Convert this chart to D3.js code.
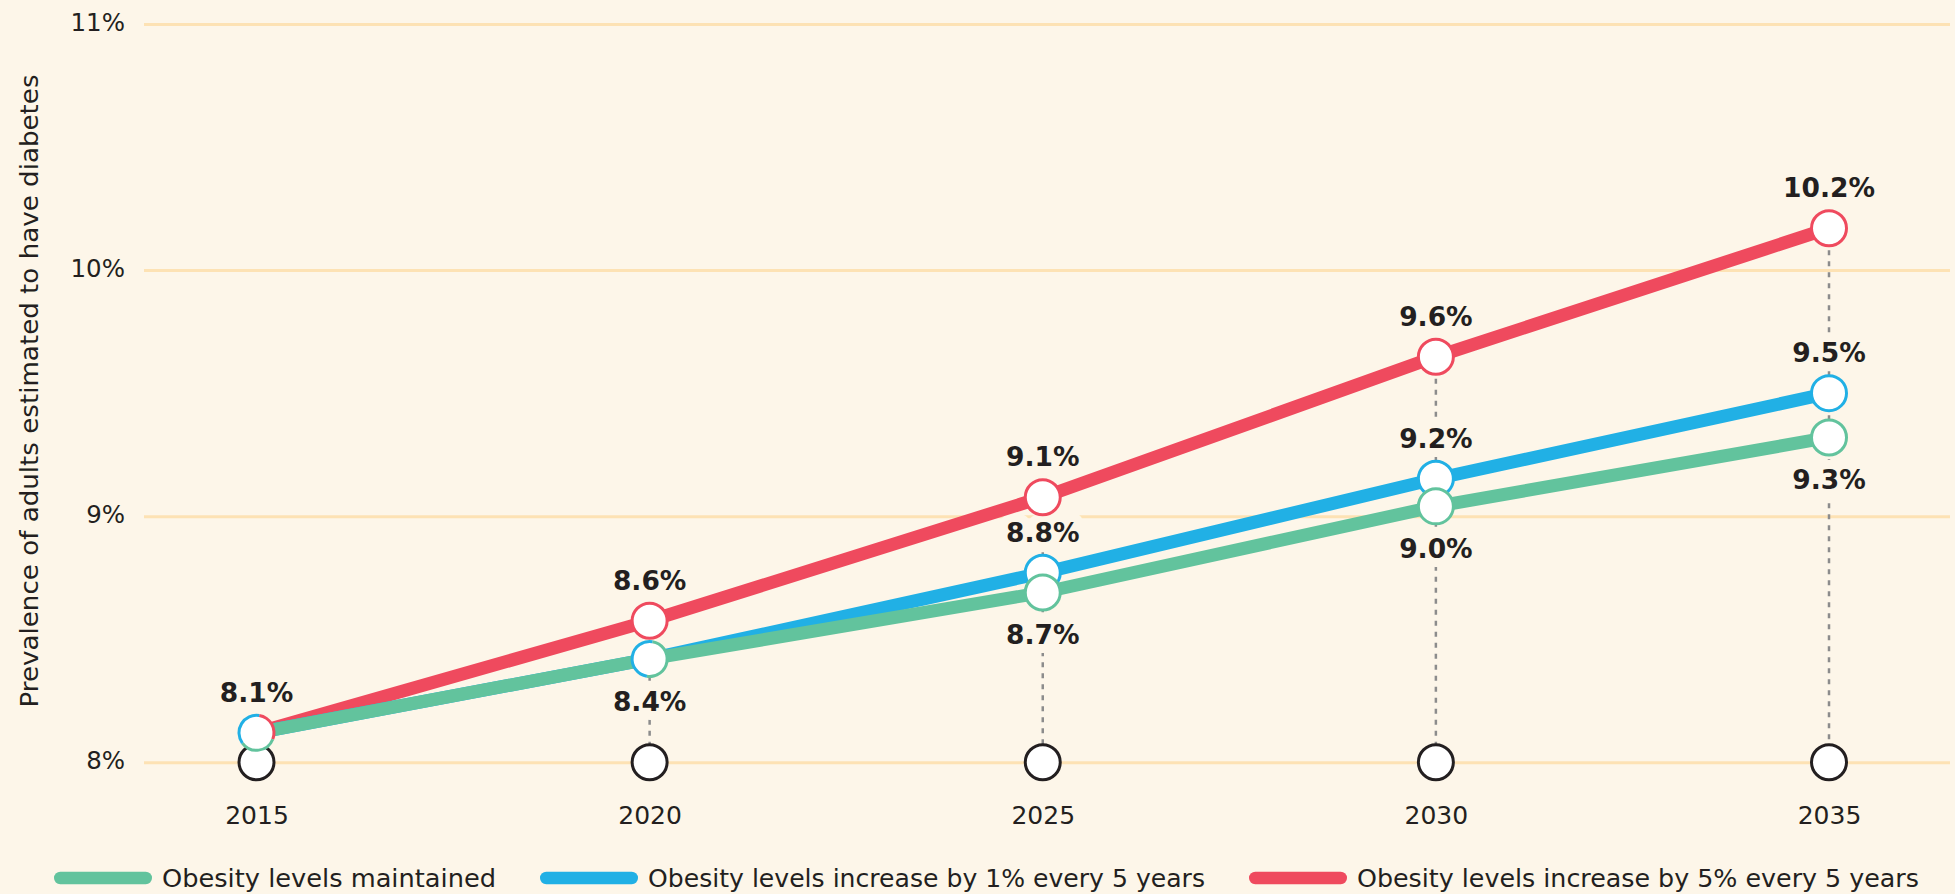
<!DOCTYPE html>
<html>
<head>
<meta charset="utf-8">
<script src="https://cdn.jsdelivr.net/npm/d3@7"></script>
<style>
  html, body { margin: 0; padding: 0; background: #fdf6e9; }
  svg { display: block; }
</style>
</head>
<body>
<svg id="chart"></svg>
<script>
// data
const years = [2015, 2020, 2025, 2030, 2035];
const maintained = [8.12, 8.42, 8.69, 9.04, 9.32];
const increase1 = [8.12, 8.42, 8.77, 9.152, 9.5];
const increase5 = [8.12, 8.575, 9.077, 9.648, 10.17];
const yTicks = [8, 9, 10, 11];
const seriesNames = [
  "Obesity levels maintained",
  "Obesity levels increase by 1% every 5 years",
  "Obesity levels increase by 5% every 5 years"
];
const yTitle = "Prevalence of adults estimated to have diabetes";

const colours = ["#62c39d", "#21b0e5", "#ef4a5e"];
const bg = "#fdf6e9";
const ink = "#231f20";

const series = [
  { name: seriesNames[0], values: maintained, colour: colours[0], key: "g" },
  { name: seriesNames[1], values: increase1, colour: colours[1], key: "b" },
  { name: seriesNames[2], values: increase5, colour: colours[2], key: "r" }
];

let svgWidth = 1955,
  svgHeight = 894;
let svg = d3.select("#chart").attr("width", svgWidth).attr("height", svgHeight);

let x = d3.scaleLinear().domain([2015, 2035]).range([256.5, 1829]);
let y = d3.scaleLinear().domain([8, 11]).range([762.3, 24]);
let fmt = d3.format(".1f");
let regular = "'DejaVu Sans', sans-serif";

// background
svg.append("rect").attr("width", svgWidth).attr("height", svgHeight).attr("fill", bg);

// gridlines + y labels
let yAxis = d3.axisLeft(y).tickValues(yTicks).tickFormat(d => d + "%").tickSize(-(1950 - 144)).tickPadding(19);
let ga = svg.append("g").attr("transform", "translate(144,0)").call(yAxis);
ga.select(".domain").remove();
ga.selectAll(".tick line").attr("stroke", "#fde2b4").attr("stroke-width", 3);
ga.selectAll(".tick text")
  .attr("fill", ink)
  .attr("font-family", regular)
  .attr("font-size", 24.5)
  .attr("dy", "0.27em");

// x labels
let xAxis = d3.axisBottom(x).tickValues(years).tickFormat(d3.format("d")).tickSize(0).tickPadding(0);
let gx = svg.append("g").attr("transform", "translate(0,824)").call(xAxis);
gx.select(".domain").remove();
gx.selectAll(".tick text")
  .attr("fill", ink)
  .attr("font-family", regular)
  .attr("font-size", 25)
  .attr("dy", 0)
  .attr("y", 0);

// y title
svg.append("text")
  .attr("transform", "translate(38,391) rotate(-90)")
  .attr("text-anchor", "middle")
  .attr("fill", ink)
  .attr("font-family", regular)
  .attr("font-size", 25)
  .attr("textLength", 633)
  .attr("lengthAdjust", "spacingAndGlyphs")
  .text(yTitle);

// group points per year where values coincide
let groups = years.map((yr, i) => {
  let g = [];
  series.forEach(s => {
    let v = s.values[i];
    let found = g.find(e => Math.abs(e.value - v) < 1e-9);
    if (found) found.members.push(s);
    else g.push({ value: v, members: [s] });
  });
  g.sort((a, b) => b.value - a.value);
  return { year: yr, groups: g };
});

// dashed drop lines
let drops = svg.append("g");
groups.forEach(d => {
  drops.append("line")
    .attr("x1", x(d.year))
    .attr("x2", x(d.year))
    .attr("y1", y(d.groups[0].value))
    .attr("y2", y(8))
    .attr("stroke", "#8c8c8c")
    .attr("stroke-width", 2.5)
    .attr("stroke-dasharray", "5,6");
});

// value labels (masked with background stroke)
let labels = svg.append("g")
  .attr("font-family", "'DejaVu Sans', sans-serif")
  .attr("font-weight", "bold")
  .attr("font-size", 26.5)
  .attr("fill", ink)
  .attr("text-anchor", "middle");
groups.forEach(d => {
  let n = d.groups.length;
  d.groups.forEach((g, k) => {
    let below = n > 1 && k === n - 1;
    labels.append("text")
      .attr("x", x(d.year))
      .attr("y", below ? y(g.value) + 52 : y(g.value) - 31)
      .attr("stroke", bg)
      .attr("stroke-width", 18)
      .attr("paint-order", "stroke")
      .attr("stroke-linejoin", "round")
      .text(fmt(g.value) + "%");
  });
});

// baseline circles
svg.append("g").selectAll("circle")
  .data(years)
  .join("circle")
  .attr("cx", d => x(d))
  .attr("cy", y(8))
  .attr("r", 17.5)
  .attr("fill", "#fff")
  .attr("stroke", ink)
  .attr("stroke-width", 3);

// lines: red under blue under green
let line = d3.line().x((d, i) => x(years[i])).y(d => y(d));
let drawOrder = [series[2], series[1], series[0]];
svg.append("g").selectAll("path")
  .data(drawOrder)
  .join("path")
  .attr("d", d => line(d.values))
  .attr("fill", "none")
  .attr("stroke", d => d.colour)
  .attr("stroke-width", 13)
  .attr("stroke-linejoin", "round");

// point markers
let arcOrder = { r: 0, g: 1, b: 2 };
let ring = d3.arc().innerRadius(16).outerRadius(19);
let pts = svg.append("g");
groups.forEach(d => {
  // draw in order red, blue, green so green sits on top
  let flat = d.groups.slice();
  flat.sort((a, b) => {
    let ra = Math.min(...a.members.map(m => "rbg".indexOf(m.key)));
    let rb = Math.min(...b.members.map(m => "rbg".indexOf(m.key)));
    return ra - rb;
  });
  flat.forEach(g => {
    let cx = x(d.year), cy = y(g.value);
    if (g.members.length === 1) {
      pts.append("circle")
        .attr("cx", cx).attr("cy", cy).attr("r", 17.5)
        .attr("fill", "#fff")
        .attr("stroke", g.members[0].colour)
        .attr("stroke-width", 3);
    } else {
      pts.append("circle").attr("cx", cx).attr("cy", cy).attr("r", 17.5).attr("fill", "#fff");
      let mem = g.members.slice().sort((a, b) => arcOrder[a.key] - arcOrder[b.key]);
      let start = 0.05 * Math.PI;
      let spans = mem.length === 3 ? [0.57, 0.68, 0.75] : [1, 1];
      mem.forEach((m, j) => {
        let end = start + spans[j] * Math.PI;
        pts.append("path")
          .attr("transform", "translate(" + cx + "," + cy + ")")
          .attr("d", ring({ startAngle: start, endAngle: end }))
          .attr("fill", m.colour);
        start = end;
      });
    }
  });
});

// legend
const legendWidths = [334, 557, 562];
let legend = svg.append("g").attr("font-family", regular).attr("font-size", 25).attr("fill", ink);
let lx = 54;
series.forEach((s, i) => {
  legend.append("rect")
    .attr("x", lx).attr("y", 878 - 6.25)
    .attr("width", 98).attr("height", 12.5).attr("rx", 6.25)
    .attr("fill", s.colour);
  legend.append("text")
    .attr("x", lx + 108).attr("y", 887)
    .attr("textLength", legendWidths[i])
    .attr("lengthAdjust", "spacingAndGlyphs")
    .text(s.name);
  lx = lx + 108 + legendWidths[i] + 44;
});
</script>
</body>
</html>
